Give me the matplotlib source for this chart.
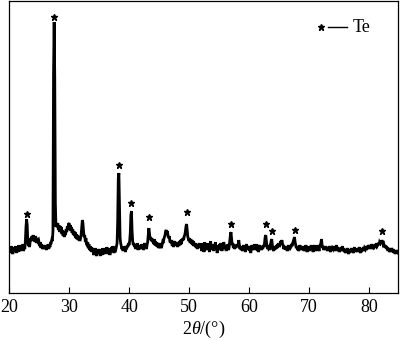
import numpy as np
import matplotlib
matplotlib.use("Agg")
import matplotlib.pyplot as plt
from matplotlib.lines import Line2D

plt.rcParams['font.family'] = ['Liberation Serif', 'DejaVu Serif']
plt.rcParams['mathtext.fontset'] = 'custom'
plt.rcParams['mathtext.rm'] = 'Liberation Serif'
plt.rcParams['mathtext.it'] = 'Liberation Serif:italic'

# XRD pattern, 2theta from 20.0 to 84.9 in 0.1 degree steps (one row per degree)
intensity_rows = [
    [45, 40, 44, 41, 47, 42, 39, 45, 41, 46],   # 20
    [43, 47, 40, 46, 44, 41, 48, 42, 45, 42],   # 21
    [48, 43, 44, 49, 42, 46, 44, 52, 66, 74],   # 22
    [68, 52, 47, 50, 46, 52, 55, 52, 57, 54],   # 23
    [58, 53, 56, 51, 57, 54, 50, 55, 52, 53],   # 24
    [50, 47, 51, 45, 49, 46, 44, 48, 45, 47],   # 25
    [44, 48, 43, 47, 45, 49, 44, 48, 46, 50],   # 26
    [50, 53, 52, 62, 220, 271, 215, 90, 66, 70],  # 27
    [66, 70, 63, 68, 61, 67, 62, 66, 59, 63],   # 28
    [57, 62, 56, 61, 58, 64, 61, 67, 63, 69],   # 29
    [70, 65, 68, 62, 66, 60, 64, 58, 62, 57],   # 30
    [61, 55, 59, 54, 58, 53, 57, 52, 56, 55],   # 31
    [58, 66, 73, 70, 62, 56, 58, 51, 55, 49],   # 32
    [48, 51, 45, 49, 43, 47, 42, 46, 41, 45],   # 33
    [43, 38, 42, 39, 45, 40, 37, 43, 39, 44],   # 34
    [40, 44, 37, 43, 41, 38, 45, 39, 42, 39],   # 35
    [45, 40, 41, 46, 39, 43, 40, 45, 38, 42],   # 36
    [43, 46, 41, 47, 43, 40, 46, 45, 44, 47],   # 37
    [50, 72, 115, 120, 85, 55, 50, 47, 44, 46],  # 38
    [42, 46, 43, 47, 41, 45, 44, 48, 46, 50],   # 39
    [48, 52, 60, 78, 82, 62, 52, 48, 50, 46],   # 40
    [48, 44, 49, 45, 50, 43, 47, 44, 48, 46],   # 41
    [44, 49, 45, 48, 43, 47, 50, 45, 48, 44],   # 42
    [48, 51, 58, 65, 60, 54, 56, 52, 55, 51],   # 43
    [53, 49, 54, 48, 52, 47, 51, 46, 50, 45],   # 44
    [47, 50, 45, 49, 45, 48, 51, 50, 54, 56],   # 45
    [58, 62, 63, 59, 62, 57, 55, 57, 52, 52],   # 46
    [50, 53, 47, 51, 46, 50, 52, 47, 51, 48],   # 47
    [50, 46, 51, 47, 52, 48, 53, 49, 54, 52],   # 48
    [55, 53, 57, 58, 62, 67, 69, 62, 56, 54],   # 49
    [52, 55, 50, 54, 49, 53, 48, 52, 47, 50],   # 50
    [47, 50, 45, 49, 44, 48, 46, 50, 45, 48],   # 51
    [48, 42, 50, 44, 47, 41, 51, 45, 43, 49],   # 52
    [45, 50, 43, 48, 41, 47, 52, 44, 49, 43],   # 53
    [47, 42, 49, 45, 51, 43, 46, 40, 48, 44],   # 54
    [43, 49, 44, 50, 46, 42, 48, 45, 51, 47],   # 55
    [44, 48, 42, 47, 45, 49, 43, 46, 52, 58],   # 56
    [61, 55, 48, 50, 45, 49, 44, 47, 45, 48],   # 57
    [46, 49, 47, 53, 48, 44, 47, 43, 46, 42],   # 58
    [45, 48, 43, 47, 41, 46, 49, 44, 47, 43],   # 59
    [47, 42, 46, 40, 45, 48, 43, 47, 44, 49],   # 60
    [43, 47, 44, 49, 42, 46, 41, 45, 48, 44],   # 61
    [46, 43, 47, 44, 48, 46, 50, 56, 58, 52],   # 62
    [47, 44, 48, 45, 46, 43, 48, 52, 54, 48],   # 63
    [45, 42, 46, 43, 47, 44, 48, 45, 49, 47],   # 64
    [50, 46, 49, 52, 50, 53, 49, 48, 44, 47],   # 65
    [44, 47, 43, 46, 42, 45, 48, 44, 47, 45],   # 66
    [46, 49, 47, 50, 52, 54, 56, 51, 48, 45],   # 67
    [47, 43, 46, 42, 45, 48, 44, 47, 43, 46],   # 68
    [44, 47, 42, 46, 43, 48, 45, 41, 46, 44],   # 69
    [46, 42, 47, 44, 48, 43, 46, 41, 45, 48],   # 70
    [43, 46, 42, 47, 44, 48, 45, 42, 47, 48],   # 71
    [50, 54, 48, 45, 47, 43, 46, 44, 47, 43],   # 72
    [46, 42, 45, 43, 47, 44, 41, 46, 43, 45],   # 73
    [44, 47, 43, 46, 42, 45, 48, 43, 46, 44],   # 74
    [45, 41, 44, 42, 46, 43, 47, 42, 45, 41],   # 75
    [43, 40, 44, 41, 45, 42, 39, 43, 40, 44],   # 76
    [42, 45, 41, 44, 40, 43, 46, 41, 44, 42],   # 77
    [44, 41, 45, 42, 46, 43, 40, 44, 41, 45],   # 78
    [43, 46, 42, 45, 44, 47, 43, 46, 44, 48],   # 79
    [45, 48, 44, 47, 45, 49, 46, 44, 48, 46],   # 80
    [47, 49, 45, 50, 47, 48, 50, 48, 51, 50],   # 81
    [52, 50, 53, 50, 48, 49, 46, 48, 45, 47],   # 82
    [44, 46, 42, 45, 43, 41, 44, 42, 45, 43],   # 83
    [41, 44, 40, 43, 39, 42, 40, 43, 41, 40],   # 84
]
start_angle = 20.0
step_angle = 0.1

# Te reflections marked with stars
star_angles = [22.95, 27.48, 38.27, 40.38, 43.32, 49.62, 57.0, 62.8, 63.9, 67.6, 82.2]
star_heights = [79, 276, 128, 90, 76, 81, 69, 69, 62, 63, 62]

x_ticks = [20, 30, 40, 50, 60, 70, 80]
legend_label = "Te"
x_label = r'$\mathit{2\theta}$/(°)'

intensity = np.array([v for row in intensity_rows for v in row], dtype=float)
two_theta = start_angle + step_angle * np.arange(len(intensity))

fig = plt.figure(figsize=(4.0, 3.4), dpi=100)
ax = fig.add_axes([0.023, 0.138, 0.971, 0.859])

ax.plot(two_theta, intensity, color='black', lw=2.0, solid_joinstyle='miter')
ax.plot(star_angles, star_heights, linestyle='none', marker='*', color='black',
        markersize=5)

ax.set_xlim(20, 84.8)
ax.set_ylim(0, 292)
ax.set_xticks(x_ticks)
ax.set_yticks([])
ax.tick_params(axis='x', direction='in', length=4, width=0.8, labelsize=13, pad=4)
for s in ax.spines.values():
    s.set_linewidth(0.9)
    s.set_color('black')
ax.set_xlabel(x_label, fontsize=13, labelpad=2)

# legend: star, dash, label
ax.plot([0.802], [0.911], transform=ax.transAxes, marker='*', color='black',
        markersize=4.5, linestyle='none')
ax.add_line(Line2D([0.821, 0.869], [0.911, 0.911], transform=ax.transAxes,
                   color='black', lw=1.0))
ax.text(0.885, 0.911, legend_label, transform=ax.transAxes, fontsize=13,
        va='center', ha='left')

fig.savefig('out.png', dpi=100)
